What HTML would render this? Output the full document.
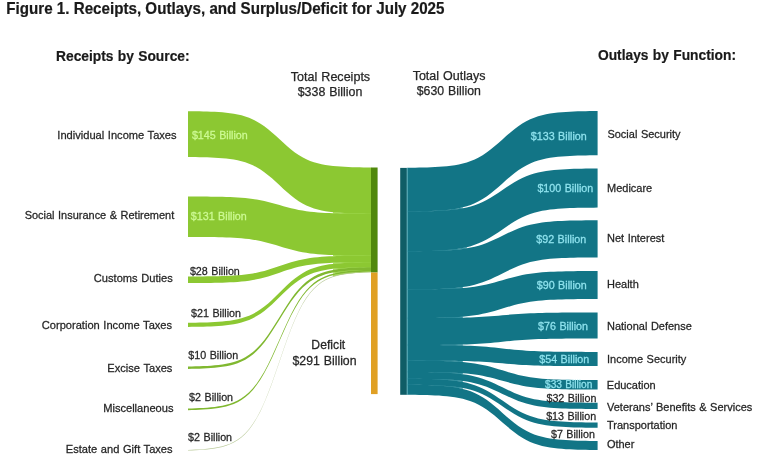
<!DOCTYPE html>
<html><head><meta charset="utf-8"><title>Figure 1</title>
<style>html,body{margin:0;padding:0;background:#fff;}body{width:768px;height:473px;overflow:hidden;font-family:"Liberation Sans",Arial,sans-serif;}svg{display:block}</style>
</head><body>
<svg width="768" height="473" viewBox="0 0 768 473" font-family="'Liberation Sans', Arial, sans-serif">
<path d="M371.20,213.70 L367.38,213.67 L363.57,213.64 L359.75,213.60 L355.93,213.54 L352.12,213.47 L348.30,213.38 L344.48,213.27 L340.67,213.12 L336.85,212.94 L333.03,212.70" fill="none" stroke="#a9e05c" stroke-width="1.4"/>
<path d="M371.20,255.60 L367.38,255.60 L363.57,255.60 L359.75,255.60 L355.93,255.60 L352.12,255.61 L348.30,255.61 L344.48,255.61 L340.67,255.62 L336.85,255.62 L333.03,255.63" fill="none" stroke="#a9e05c" stroke-width="1.4"/>
<path d="M371.20,262.25 L367.38,262.28 L363.57,262.32 L359.75,262.36 L355.93,262.42 L352.12,262.50 L348.30,262.60 L344.48,262.72 L340.67,262.88 L336.85,263.09 L333.03,263.35" fill="none" stroke="#a9e05c" stroke-width="1.4"/>
<path d="M371.20,267.25 L367.38,267.31 L363.57,267.38 L359.75,267.47 L355.93,267.59 L352.12,267.74 L348.30,267.93 L344.48,268.18 L340.67,268.49 L336.85,268.89 L333.03,269.39" fill="none" stroke="#a9e05c" stroke-width="1.4"/>
<path d="M371.20,269.90 L367.38,269.98 L363.57,270.09 L359.75,270.23 L355.93,270.40 L352.12,270.63 L348.30,270.92 L344.48,271.28 L340.67,271.75 L336.85,272.35 L333.03,273.10" fill="none" stroke="#a9e05c" stroke-width="1.4"/>
<path d="M371.20,271.50 L367.38,271.61 L363.57,271.75 L359.75,271.94 L355.93,272.17 L352.12,272.47 L348.30,272.86 L344.48,273.35 L340.67,273.97 L336.85,274.77 L333.03,275.78" fill="none" stroke="#a9e05c" stroke-width="1.4"/>
<path d="M188.00,111.20 L191.82,111.24 L195.63,111.29 L199.45,111.36 L203.27,111.44 L207.08,111.55 L210.90,111.68 L214.72,111.86 L218.53,112.08 L222.35,112.36 L226.17,112.72 L229.98,113.17 L233.80,113.74 L237.62,114.46 L241.43,115.35 L245.25,116.45 L249.07,117.80 L252.88,119.44 L256.70,121.38 L260.52,123.66 L264.33,126.28 L268.15,129.21 L271.97,132.42 L275.78,135.83 L279.60,139.35 L283.42,142.87 L287.23,146.28 L291.05,149.49 L294.87,152.42 L298.68,155.04 L302.50,157.32 L306.32,159.26 L310.13,160.90 L313.95,162.25 L317.77,163.35 L321.58,164.24 L325.40,164.96 L329.22,165.53 L333.03,165.98 L336.85,166.34 L340.67,166.62 L344.48,166.84 L348.30,167.02 L352.12,167.15 L355.93,167.26 L359.75,167.34 L363.57,167.41 L367.38,167.46 L371.20,167.50 L371.20,213.70 L367.38,213.66 L363.57,213.61 L359.75,213.54 L355.93,213.46 L352.12,213.35 L348.30,213.21 L344.48,213.04 L340.67,212.82 L336.85,212.53 L333.03,212.17 L329.22,211.71 L325.40,211.14 L321.58,210.42 L317.77,209.52 L313.95,208.41 L310.13,207.05 L306.32,205.40 L302.50,203.45 L298.68,201.15 L294.87,198.52 L291.05,195.56 L287.23,192.33 L283.42,188.89 L279.60,185.35 L275.78,181.81 L271.97,178.37 L268.15,175.14 L264.33,172.18 L260.52,169.55 L256.70,167.25 L252.88,165.30 L249.07,163.65 L245.25,162.29 L241.43,161.18 L237.62,160.28 L233.80,159.56 L229.98,158.99 L226.17,158.53 L222.35,158.17 L218.53,157.88 L214.72,157.66 L210.90,157.49 L207.08,157.35 L203.27,157.24 L199.45,157.16 L195.63,157.09 L191.82,157.04 L188.00,157.00Z" fill="#8cc832"/>
<path d="M188.00,196.50 L191.82,196.51 L195.63,196.53 L199.45,196.55 L203.27,196.57 L207.08,196.61 L210.90,196.65 L214.72,196.70 L218.53,196.77 L222.35,196.85 L226.17,196.96 L229.98,197.10 L233.80,197.28 L237.62,197.50 L241.43,197.77 L245.25,198.11 L249.07,198.52 L252.88,199.02 L256.70,199.61 L260.52,200.31 L264.33,201.11 L268.15,202.00 L271.97,202.98 L275.78,204.03 L279.60,205.10 L283.42,206.17 L287.23,207.22 L291.05,208.20 L294.87,209.09 L298.68,209.89 L302.50,210.59 L306.32,211.18 L310.13,211.68 L313.95,212.09 L317.77,212.43 L321.58,212.70 L325.40,212.92 L329.22,213.10 L333.03,213.24 L336.85,213.35 L340.67,213.43 L344.48,213.50 L348.30,213.55 L352.12,213.59 L355.93,213.63 L359.75,213.65 L363.57,213.67 L367.38,213.69 L371.20,213.70 L371.20,255.60 L367.38,255.59 L363.57,255.57 L359.75,255.55 L355.93,255.52 L352.12,255.49 L348.30,255.44 L344.48,255.38 L340.67,255.31 L336.85,255.21 L333.03,255.10 L329.22,254.94 L325.40,254.76 L321.58,254.52 L317.77,254.22 L313.95,253.85 L310.13,253.41 L306.32,252.86 L302.50,252.22 L298.68,251.46 L294.87,250.59 L291.05,249.62 L287.23,248.55 L283.42,247.42 L279.60,246.25 L275.78,245.08 L271.97,243.95 L268.15,242.88 L264.33,241.91 L260.52,241.04 L256.70,240.28 L252.88,239.64 L249.07,239.09 L245.25,238.65 L241.43,238.28 L237.62,237.98 L233.80,237.74 L229.98,237.56 L226.17,237.40 L222.35,237.29 L218.53,237.19 L214.72,237.12 L210.90,237.06 L207.08,237.01 L203.27,236.98 L199.45,236.95 L195.63,236.93 L191.82,236.91 L188.00,236.90Z" fill="#8cc832"/>
<path d="M188.00,276.50 L191.82,276.49 L195.63,276.47 L199.45,276.44 L203.27,276.41 L207.08,276.37 L210.90,276.32 L214.72,276.26 L218.53,276.17 L222.35,276.07 L226.17,275.94 L229.98,275.77 L233.80,275.56 L237.62,275.29 L241.43,274.96 L245.25,274.55 L249.07,274.05 L252.88,273.44 L256.70,272.72 L260.52,271.87 L264.33,270.90 L268.15,269.81 L271.97,268.62 L275.78,267.36 L279.60,266.05 L283.42,264.74 L287.23,263.48 L291.05,262.29 L294.87,261.20 L298.68,260.23 L302.50,259.38 L306.32,258.66 L310.13,258.05 L313.95,257.55 L317.77,257.14 L321.58,256.81 L325.40,256.54 L329.22,256.33 L333.03,256.16 L336.85,256.03 L340.67,255.93 L344.48,255.84 L348.30,255.78 L352.12,255.73 L355.93,255.69 L359.75,255.66 L363.57,255.63 L367.38,255.61 L371.20,255.60 L371.20,262.25 L367.38,262.26 L363.57,262.28 L359.75,262.31 L355.93,262.34 L352.12,262.38 L348.30,262.43 L344.48,262.49 L340.67,262.58 L336.85,262.68 L333.03,262.81 L329.22,262.98 L325.40,263.19 L321.58,263.46 L317.77,263.79 L313.95,264.20 L310.13,264.70 L306.32,265.30 L302.50,266.02 L298.68,266.86 L294.87,267.83 L291.05,268.92 L287.23,270.11 L283.42,271.37 L279.60,272.68 L275.78,273.98 L271.97,275.24 L268.15,276.43 L264.33,277.52 L260.52,278.49 L256.70,279.33 L252.88,280.05 L249.07,280.65 L245.25,281.15 L241.43,281.56 L237.62,281.89 L233.80,282.16 L229.98,282.37 L226.17,282.54 L222.35,282.67 L218.53,282.77 L214.72,282.86 L210.90,282.92 L207.08,282.97 L203.27,283.01 L199.45,283.04 L195.63,283.07 L191.82,283.09 L188.00,283.10Z" fill="#8cc832"/>
<path d="M188.00,322.75 L191.82,322.71 L195.63,322.65 L199.45,322.58 L203.27,322.49 L207.08,322.38 L210.90,322.23 L214.72,322.05 L218.53,321.81 L222.35,321.50 L226.17,321.12 L229.98,320.63 L233.80,320.02 L237.62,319.25 L241.43,318.29 L245.25,317.10 L249.07,315.65 L252.88,313.90 L256.70,311.81 L260.52,309.36 L264.33,306.55 L268.15,303.39 L271.97,299.95 L275.78,296.28 L279.60,292.50 L283.42,288.72 L287.23,285.05 L291.05,281.61 L294.87,278.45 L298.68,275.64 L302.50,273.19 L306.32,271.10 L310.13,269.35 L313.95,267.90 L317.77,266.71 L321.58,265.75 L325.40,264.98 L329.22,264.37 L333.03,263.88 L336.85,263.50 L340.67,263.19 L344.48,262.95 L348.30,262.77 L352.12,262.62 L355.93,262.51 L359.75,262.42 L363.57,262.35 L367.38,262.29 L371.20,262.25 L371.20,267.25 L367.38,267.29 L363.57,267.35 L359.75,267.41 L355.93,267.50 L352.12,267.62 L348.30,267.76 L344.48,267.94 L340.67,268.18 L336.85,268.48 L333.03,268.86 L329.22,269.34 L325.40,269.94 L321.58,270.70 L317.77,271.65 L313.95,272.82 L310.13,274.25 L306.32,275.98 L302.50,278.04 L298.68,280.45 L294.87,283.22 L291.05,286.33 L287.23,289.73 L283.42,293.35 L279.60,297.07 L275.78,300.80 L271.97,304.42 L268.15,307.82 L264.33,310.93 L260.52,313.70 L256.70,316.11 L252.88,318.17 L249.07,319.90 L245.25,321.33 L241.43,322.50 L237.62,323.45 L233.80,324.21 L229.98,324.81 L226.17,325.29 L222.35,325.67 L218.53,325.97 L214.72,326.21 L210.90,326.39 L207.08,326.53 L203.27,326.65 L199.45,326.74 L195.63,326.80 L191.82,326.86 L188.00,326.90Z" fill="#8cc832"/>
<path d="M188.00,366.50 L191.82,366.43 L195.63,366.34 L199.45,366.23 L203.27,366.08 L207.08,365.89 L210.90,365.65 L214.72,365.34 L218.53,364.95 L222.35,364.45 L226.17,363.82 L229.98,363.02 L233.80,362.02 L237.62,360.75 L241.43,359.18 L245.25,357.24 L249.07,354.86 L252.88,351.98 L256.70,348.55 L260.52,344.53 L264.33,339.92 L268.15,334.75 L271.97,329.09 L275.78,323.08 L279.60,316.88 L283.42,310.67 L287.23,304.66 L291.05,299.00 L294.87,293.83 L298.68,289.22 L302.50,285.20 L306.32,281.77 L310.13,278.89 L313.95,276.51 L317.77,274.57 L321.58,273.00 L325.40,271.73 L329.22,270.73 L333.03,269.93 L336.85,269.30 L340.67,268.80 L344.48,268.41 L348.30,268.10 L352.12,267.86 L355.93,267.67 L359.75,267.52 L363.57,267.41 L367.38,267.32 L371.20,267.25 L371.20,269.90 L367.38,269.97 L363.57,270.06 L359.75,270.17 L355.93,270.32 L352.12,270.51 L348.30,270.75 L344.48,271.05 L340.67,271.44 L336.85,271.94 L333.03,272.57 L329.22,273.37 L325.40,274.37 L321.58,275.63 L317.77,277.20 L313.95,279.14 L310.13,281.51 L306.32,284.38 L302.50,287.80 L298.68,291.81 L294.87,296.41 L291.05,301.57 L287.23,307.22 L283.42,313.21 L279.60,319.40 L275.78,325.59 L271.97,331.58 L268.15,337.23 L264.33,342.39 L260.52,346.99 L256.70,351.00 L252.88,354.42 L249.07,357.29 L245.25,359.66 L241.43,361.60 L237.62,363.17 L233.80,364.43 L229.98,365.43 L226.17,366.23 L222.35,366.86 L218.53,367.36 L214.72,367.75 L210.90,368.05 L207.08,368.29 L203.27,368.48 L199.45,368.63 L195.63,368.74 L191.82,368.83 L188.00,368.90Z" fill="#80b830"/>
<path d="M188.00,408.50 L191.82,408.40 L195.63,408.28 L199.45,408.12 L203.27,407.91 L207.08,407.65 L210.90,407.31 L214.72,406.89 L218.53,406.34 L222.35,405.64 L226.17,404.76 L229.98,403.65 L233.80,402.24 L237.62,400.48 L241.43,398.28 L245.25,395.56 L249.07,392.24 L252.88,388.22 L256.70,383.43 L260.52,377.82 L264.33,371.38 L268.15,364.16 L271.97,356.26 L275.78,347.86 L279.60,339.20 L283.42,330.54 L287.23,322.14 L291.05,314.24 L294.87,307.02 L298.68,300.58 L302.50,294.97 L306.32,290.18 L310.13,286.16 L313.95,282.84 L317.77,280.12 L321.58,277.92 L325.40,276.16 L329.22,274.75 L333.03,273.64 L336.85,272.76 L340.67,272.06 L344.48,271.51 L348.30,271.09 L352.12,270.75 L355.93,270.49 L359.75,270.28 L363.57,270.12 L367.38,270.00 L371.20,269.90 L371.20,271.50 L367.38,271.60 L363.57,271.72 L359.75,271.88 L355.93,272.09 L352.12,272.35 L348.30,272.69 L344.48,273.12 L340.67,273.66 L336.85,274.36 L333.03,275.24 L329.22,276.36 L325.40,277.77 L321.58,279.53 L317.77,281.73 L313.95,284.45 L310.13,287.77 L306.32,291.79 L302.50,296.58 L298.68,302.20 L294.87,308.64 L291.05,315.87 L287.23,323.78 L283.42,332.18 L279.60,340.85 L275.78,349.52 L271.97,357.92 L268.15,365.83 L264.33,373.06 L260.52,379.50 L256.70,385.12 L252.88,389.91 L249.07,393.93 L245.25,397.25 L241.43,399.97 L237.62,402.17 L233.80,403.93 L229.98,405.34 L226.17,406.46 L222.35,407.34 L218.53,408.04 L214.72,408.58 L210.90,409.01 L207.08,409.35 L203.27,409.61 L199.45,409.82 L195.63,409.98 L191.82,410.10 L188.00,410.20Z" fill="#80b830"/>
<path d="M188.00,449.90 L191.82,449.77 L195.63,449.61 L199.45,449.41 L203.27,449.14 L207.08,448.81 L210.90,448.37 L214.72,447.82 L218.53,447.12 L222.35,446.22 L226.17,445.09 L229.98,443.65 L233.80,441.84 L237.62,439.57 L241.43,436.74 L245.25,433.25 L249.07,428.97 L252.88,423.80 L256.70,417.64 L260.52,410.42 L264.33,402.13 L268.15,392.82 L271.97,382.66 L275.78,371.85 L279.60,360.70 L283.42,349.55 L287.23,338.74 L291.05,328.58 L294.87,319.27 L298.68,310.98 L302.50,303.76 L306.32,297.60 L310.13,292.43 L313.95,288.15 L317.77,284.66 L321.58,281.83 L325.40,279.56 L329.22,277.75 L333.03,276.31 L336.85,275.18 L340.67,274.28 L344.48,273.58 L348.30,273.03 L352.12,272.59 L355.93,272.26 L359.75,271.99 L363.57,271.79 L367.38,271.63 L371.20,271.50 L371.20,272.30 L367.38,272.43 L363.57,272.59 L359.75,272.79 L355.93,273.06 L352.12,273.39 L348.30,273.83 L344.48,274.38 L340.67,275.08 L336.85,275.97 L333.03,277.11 L329.22,278.55 L325.40,280.35 L321.58,282.62 L317.77,285.45 L313.95,288.94 L310.13,293.22 L306.32,298.38 L302.50,304.55 L298.68,311.76 L294.87,320.05 L291.05,329.34 L287.23,339.51 L283.42,350.31 L279.60,361.45 L275.78,372.59 L271.97,383.39 L268.15,393.56 L264.33,402.85 L260.52,411.14 L256.70,418.35 L252.88,424.52 L249.07,429.68 L245.25,433.96 L241.43,437.45 L237.62,440.28 L233.80,442.55 L229.98,444.35 L226.17,445.79 L222.35,446.93 L218.53,447.82 L214.72,448.52 L210.90,449.07 L207.08,449.51 L203.27,449.84 L199.45,450.11 L195.63,450.31 L191.82,450.47 L188.00,450.60Z" fill="#a3b878" fill-opacity="0.75"/>
<rect x="371" y="167.5" width="6.6" height="105" fill="#50880c"/>
<rect x="371" y="272.5" width="6.6" height="121.6" fill="#e0a024"/>
<path d="M407.30,211.50 L411.26,211.47 L415.23,211.42 L419.19,211.36 L423.16,211.29 L427.12,211.20 L431.09,211.08 L435.05,210.92 L439.02,210.73 L442.98,210.48 L446.95,210.16 L450.91,209.76 L454.88,209.26 L458.84,208.63 L462.80,207.84" fill="none" stroke="#3f9aa8" stroke-width="1.4"/>
<path d="M407.30,251.25 L411.26,251.22 L415.23,251.19 L419.19,251.15 L423.16,251.09 L427.12,251.02 L431.09,250.93 L435.05,250.82 L439.02,250.67 L442.98,250.48 L446.95,250.24 L450.91,249.94 L454.88,249.56 L458.84,249.09 L462.80,248.50 L466.77,247.77" fill="none" stroke="#3f9aa8" stroke-width="1.4"/>
<path d="M407.30,289.40 L411.26,289.38 L415.23,289.36 L419.19,289.33 L423.16,289.29 L427.12,289.25 L431.09,289.18 L435.05,289.11 L439.02,289.01 L442.98,288.88 L446.95,288.72 L450.91,288.52 L454.88,288.26 L458.84,287.94 L462.80,287.54" fill="none" stroke="#3f9aa8" stroke-width="1.4"/>
<path d="M407.30,318.10 L411.26,318.09 L415.23,318.08 L419.19,318.07 L423.16,318.05 L427.12,318.02 L431.09,317.99 L435.05,317.96 L439.02,317.91 L442.98,317.85 L446.95,317.77 L450.91,317.67 L454.88,317.54 L458.84,317.38 L462.80,317.19" fill="none" stroke="#3f9aa8" stroke-width="1.4"/>
<path d="M407.30,345.00 L411.26,345.00 L415.23,345.00 L419.19,345.00 L423.16,345.00 L427.12,345.00 L431.09,345.00 L435.05,345.00 L439.02,345.00 L442.98,345.00 L446.95,345.01 L450.91,345.01 L454.88,345.01 L458.84,345.01 L462.80,345.01" fill="none" stroke="#3f9aa8" stroke-width="1.4"/>
<path d="M407.30,360.60 L411.26,360.61 L415.23,360.62 L419.19,360.63 L423.16,360.65 L427.12,360.68 L431.09,360.71 L435.05,360.75 L439.02,360.79 L442.98,360.86 L446.95,360.94 L450.91,361.04 L454.88,361.16 L458.84,361.32 L462.80,361.52" fill="none" stroke="#3f9aa8" stroke-width="1.4"/>
<path d="M407.30,371.90 L411.26,371.92 L415.23,371.94 L419.19,371.97 L423.16,372.00 L427.12,372.05 L431.09,372.11 L435.05,372.18 L439.02,372.28 L442.98,372.40 L446.95,372.55 L450.91,372.75 L454.88,373.00 L458.84,373.31 L462.80,373.69" fill="none" stroke="#3f9aa8" stroke-width="1.4"/>
<path d="M407.30,378.75 L411.26,378.78 L415.23,378.81 L419.19,378.85 L423.16,378.91 L427.12,378.98 L431.09,379.07 L435.05,379.18 L439.02,379.33 L442.98,379.51 L446.95,379.75 L450.91,380.05 L454.88,380.42 L458.84,380.89 L462.80,381.48" fill="none" stroke="#3f9aa8" stroke-width="1.4"/>
<path d="M407.30,384.75 L411.26,384.78 L415.23,384.83 L419.19,384.89 L423.16,384.96 L427.12,385.05 L431.09,385.17 L435.05,385.33 L439.02,385.52 L442.98,385.77 L446.95,386.09 L450.91,386.49 L454.88,386.99 L458.84,387.62 L462.80,388.41" fill="none" stroke="#3f9aa8" stroke-width="1.4"/>
<path d="M407.30,167.75 L411.26,167.71 L415.23,167.66 L419.19,167.59 L423.16,167.51 L427.12,167.40 L431.09,167.26 L435.05,167.09 L439.02,166.87 L442.98,166.58 L446.95,166.22 L450.91,165.76 L454.88,165.19 L458.84,164.46 L462.80,163.56 L466.77,162.45 L470.73,161.09 L474.70,159.45 L478.66,157.49 L482.63,155.19 L486.59,152.55 L490.56,149.59 L494.52,146.36 L498.49,142.92 L502.45,139.38 L506.41,135.83 L510.38,132.39 L514.34,129.16 L518.31,126.20 L522.27,123.56 L526.24,121.26 L530.20,119.30 L534.17,117.66 L538.13,116.30 L542.10,115.19 L546.06,114.29 L550.03,113.56 L553.99,112.99 L557.95,112.53 L561.92,112.17 L565.88,111.88 L569.85,111.66 L573.81,111.49 L577.78,111.35 L581.74,111.24 L585.71,111.16 L589.67,111.09 L593.64,111.04 L597.60,111.00 L597.60,155.25 L593.64,155.29 L589.67,155.34 L585.71,155.41 L581.74,155.49 L577.78,155.60 L573.81,155.73 L569.85,155.91 L565.88,156.13 L561.92,156.41 L557.95,156.77 L553.99,157.22 L550.03,157.79 L546.06,158.51 L542.10,159.40 L538.13,160.50 L534.17,161.85 L530.20,163.48 L526.24,165.42 L522.27,167.70 L518.31,170.31 L514.34,173.25 L510.38,176.45 L506.41,179.86 L502.45,183.38 L498.49,186.89 L494.52,190.30 L490.56,193.50 L486.59,196.44 L482.63,199.05 L478.66,201.33 L474.70,203.27 L470.73,204.90 L466.77,206.25 L462.80,207.35 L458.84,208.24 L454.88,208.96 L450.91,209.53 L446.95,209.98 L442.98,210.34 L439.02,210.62 L435.05,210.84 L431.09,211.02 L427.12,211.15 L423.16,211.26 L419.19,211.34 L415.23,211.41 L411.26,211.46 L407.30,211.50Z" fill="#127586"/>
<path d="M407.30,211.50 L411.26,211.47 L415.23,211.43 L419.19,211.38 L423.16,211.32 L427.12,211.24 L431.09,211.13 L435.05,211.00 L439.02,210.83 L442.98,210.61 L446.95,210.34 L450.91,209.99 L454.88,209.56 L458.84,209.01 L462.80,208.33 L466.77,207.49 L470.73,206.46 L474.70,205.21 L478.66,203.72 L482.63,201.98 L486.59,199.98 L490.56,197.74 L494.52,195.29 L498.49,192.69 L502.45,190.00 L506.41,187.31 L510.38,184.71 L514.34,182.26 L518.31,180.02 L522.27,178.02 L526.24,176.28 L530.20,174.79 L534.17,173.54 L538.13,172.51 L542.10,171.67 L546.06,170.99 L550.03,170.44 L553.99,170.01 L557.95,169.66 L561.92,169.39 L565.88,169.17 L569.85,169.00 L573.81,168.87 L577.78,168.76 L581.74,168.68 L585.71,168.62 L589.67,168.57 L593.64,168.53 L597.60,168.50 L597.60,207.60 L593.64,207.63 L589.67,207.67 L585.71,207.72 L581.74,207.79 L577.78,207.87 L573.81,207.97 L569.85,208.11 L565.88,208.28 L561.92,208.50 L557.95,208.78 L553.99,209.13 L550.03,209.57 L546.06,210.13 L542.10,210.82 L538.13,211.67 L534.17,212.72 L530.20,213.99 L526.24,215.49 L522.27,217.26 L518.31,219.29 L514.34,221.56 L510.38,224.05 L506.41,226.70 L502.45,229.43 L498.49,232.15 L494.52,234.80 L490.56,237.29 L486.59,239.56 L482.63,241.59 L478.66,243.36 L474.70,244.86 L470.73,246.13 L466.77,247.18 L462.80,248.03 L458.84,248.72 L454.88,249.28 L450.91,249.72 L446.95,250.07 L442.98,250.35 L439.02,250.57 L435.05,250.74 L431.09,250.88 L427.12,250.98 L423.16,251.06 L419.19,251.13 L415.23,251.18 L411.26,251.22 L407.30,251.25Z" fill="#127586"/>
<path d="M407.30,251.25 L411.26,251.23 L415.23,251.20 L419.19,251.16 L423.16,251.12 L427.12,251.06 L431.09,250.98 L435.05,250.89 L439.02,250.77 L442.98,250.61 L446.95,250.41 L450.91,250.16 L454.88,249.85 L458.84,249.46 L462.80,248.96 L466.77,248.36 L470.73,247.61 L474.70,246.71 L478.66,245.64 L482.63,244.39 L486.59,242.95 L490.56,241.33 L494.52,239.57 L498.49,237.69 L502.45,235.75 L506.41,233.81 L510.38,231.93 L514.34,230.17 L518.31,228.55 L522.27,227.11 L526.24,225.86 L530.20,224.79 L534.17,223.89 L538.13,223.14 L542.10,222.54 L546.06,222.04 L550.03,221.65 L553.99,221.34 L557.95,221.09 L561.92,220.89 L565.88,220.73 L569.85,220.61 L573.81,220.52 L577.78,220.44 L581.74,220.38 L585.71,220.34 L589.67,220.30 L593.64,220.27 L597.60,220.25 L597.60,257.40 L593.64,257.42 L589.67,257.45 L585.71,257.49 L581.74,257.54 L577.78,257.60 L573.81,257.67 L569.85,257.77 L565.88,257.90 L561.92,258.06 L557.95,258.26 L553.99,258.52 L550.03,258.85 L546.06,259.25 L542.10,259.76 L538.13,260.39 L534.17,261.15 L530.20,262.08 L526.24,263.19 L522.27,264.48 L518.31,265.97 L514.34,267.64 L510.38,269.46 L506.41,271.40 L502.45,273.40 L498.49,275.40 L494.52,277.34 L490.56,279.16 L486.59,280.83 L482.63,282.32 L478.66,283.61 L474.70,284.72 L470.73,285.65 L466.77,286.41 L462.80,287.04 L458.84,287.55 L454.88,287.95 L450.91,288.28 L446.95,288.54 L442.98,288.74 L439.02,288.90 L435.05,289.03 L431.09,289.13 L427.12,289.20 L423.16,289.26 L419.19,289.31 L415.23,289.35 L411.26,289.38 L407.30,289.40Z" fill="#127586"/>
<path d="M407.30,289.40 L411.26,289.39 L415.23,289.37 L419.19,289.35 L423.16,289.32 L427.12,289.29 L431.09,289.24 L435.05,289.19 L439.02,289.11 L442.98,289.02 L446.95,288.90 L450.91,288.76 L454.88,288.57 L458.84,288.33 L462.80,288.04 L466.77,287.68 L470.73,287.24 L474.70,286.71 L478.66,286.07 L482.63,285.33 L486.59,284.47 L490.56,283.51 L494.52,282.46 L498.49,281.35 L502.45,280.20 L506.41,279.05 L510.38,277.94 L514.34,276.89 L518.31,275.93 L522.27,275.07 L526.24,274.33 L530.20,273.69 L534.17,273.16 L538.13,272.72 L542.10,272.36 L546.06,272.07 L550.03,271.83 L553.99,271.64 L557.95,271.50 L561.92,271.38 L565.88,271.29 L569.85,271.21 L573.81,271.16 L577.78,271.11 L581.74,271.08 L585.71,271.05 L589.67,271.03 L593.64,271.01 L597.60,271.00 L597.60,299.00 L593.64,299.01 L589.67,299.03 L585.71,299.05 L581.74,299.08 L577.78,299.12 L573.81,299.16 L569.85,299.22 L565.88,299.30 L561.92,299.39 L557.95,299.52 L553.99,299.67 L550.03,299.86 L546.06,300.11 L542.10,300.41 L538.13,300.78 L534.17,301.24 L530.20,301.79 L526.24,302.45 L522.27,303.23 L518.31,304.11 L514.34,305.11 L510.38,306.20 L506.41,307.36 L502.45,308.55 L498.49,309.74 L494.52,310.90 L490.56,311.99 L486.59,312.99 L482.63,313.87 L478.66,314.65 L474.70,315.31 L470.73,315.86 L466.77,316.32 L462.80,316.69 L458.84,316.99 L454.88,317.24 L450.91,317.43 L446.95,317.58 L442.98,317.71 L439.02,317.80 L435.05,317.88 L431.09,317.94 L427.12,317.98 L423.16,318.02 L419.19,318.05 L415.23,318.07 L411.26,318.09 L407.30,318.10Z" fill="#127586"/>
<path d="M407.30,318.10 L411.26,318.10 L415.23,318.09 L419.19,318.08 L423.16,318.08 L427.12,318.07 L431.09,318.05 L435.05,318.03 L439.02,318.01 L442.98,317.98 L446.95,317.95 L450.91,317.90 L454.88,317.85 L458.84,317.78 L462.80,317.69 L466.77,317.58 L470.73,317.44 L474.70,317.28 L478.66,317.09 L482.63,316.86 L486.59,316.60 L490.56,316.31 L494.52,315.99 L498.49,315.65 L502.45,315.30 L506.41,314.95 L510.38,314.61 L514.34,314.29 L518.31,314.00 L522.27,313.74 L526.24,313.51 L530.20,313.32 L534.17,313.16 L538.13,313.02 L542.10,312.91 L546.06,312.82 L550.03,312.75 L553.99,312.70 L557.95,312.65 L561.92,312.62 L565.88,312.59 L569.85,312.57 L573.81,312.55 L577.78,312.53 L581.74,312.52 L585.71,312.52 L589.67,312.51 L593.64,312.50 L597.60,312.50 L597.60,338.50 L593.64,338.50 L589.67,338.51 L585.71,338.52 L581.74,338.53 L577.78,338.54 L573.81,338.56 L569.85,338.58 L565.88,338.60 L561.92,338.63 L557.95,338.68 L553.99,338.73 L550.03,338.79 L546.06,338.88 L542.10,338.98 L538.13,339.11 L534.17,339.26 L530.20,339.45 L526.24,339.68 L522.27,339.94 L518.31,340.24 L514.34,340.58 L510.38,340.95 L506.41,341.34 L502.45,341.75 L498.49,342.16 L494.52,342.55 L490.56,342.92 L486.59,343.26 L482.63,343.56 L478.66,343.82 L474.70,344.05 L470.73,344.24 L466.77,344.39 L462.80,344.52 L458.84,344.62 L454.88,344.71 L450.91,344.77 L446.95,344.82 L442.98,344.87 L439.02,344.90 L435.05,344.92 L431.09,344.94 L427.12,344.96 L423.16,344.97 L419.19,344.98 L415.23,344.99 L411.26,345.00 L407.30,345.00Z" fill="#127586"/>
<path d="M407.30,345.00 L411.26,345.00 L415.23,345.01 L419.19,345.02 L423.16,345.03 L427.12,345.04 L431.09,345.06 L435.05,345.08 L439.02,345.11 L442.98,345.14 L446.95,345.19 L450.91,345.24 L454.88,345.31 L458.84,345.40 L462.80,345.51 L466.77,345.64 L470.73,345.81 L474.70,346.01 L478.66,346.25 L482.63,346.53 L486.59,346.85 L490.56,347.21 L494.52,347.60 L498.49,348.02 L502.45,348.45 L506.41,348.88 L510.38,349.30 L514.34,349.69 L518.31,350.05 L522.27,350.37 L526.24,350.65 L530.20,350.89 L534.17,351.09 L538.13,351.26 L542.10,351.39 L546.06,351.50 L550.03,351.59 L553.99,351.66 L557.95,351.71 L561.92,351.76 L565.88,351.79 L569.85,351.82 L573.81,351.84 L577.78,351.86 L581.74,351.87 L585.71,351.88 L589.67,351.89 L593.64,351.90 L597.60,351.90 L597.60,366.10 L593.64,366.10 L589.67,366.09 L585.71,366.08 L581.74,366.08 L577.78,366.07 L573.81,366.05 L569.85,366.04 L565.88,366.01 L561.92,365.99 L557.95,365.95 L553.99,365.91 L550.03,365.85 L546.06,365.78 L542.10,365.69 L538.13,365.59 L534.17,365.45 L530.20,365.30 L526.24,365.11 L522.27,364.88 L518.31,364.63 L514.34,364.34 L510.38,364.03 L506.41,363.69 L502.45,363.35 L498.49,363.01 L494.52,362.67 L490.56,362.36 L486.59,362.07 L482.63,361.82 L478.66,361.59 L474.70,361.40 L470.73,361.25 L466.77,361.11 L462.80,361.01 L458.84,360.92 L454.88,360.85 L450.91,360.79 L446.95,360.75 L442.98,360.71 L439.02,360.69 L435.05,360.66 L431.09,360.65 L427.12,360.63 L423.16,360.62 L419.19,360.62 L415.23,360.61 L411.26,360.60 L407.30,360.60Z" fill="#127586"/>
<path d="M407.30,360.60 L411.26,360.61 L415.23,360.63 L419.19,360.65 L423.16,360.68 L427.12,360.72 L431.09,360.77 L435.05,360.83 L439.02,360.90 L442.98,361.00 L446.95,361.13 L450.91,361.28 L454.88,361.48 L458.84,361.73 L462.80,362.04 L466.77,362.42 L470.73,362.89 L474.70,363.45 L478.66,364.13 L482.63,364.92 L486.59,365.82 L490.56,366.84 L494.52,367.95 L498.49,369.13 L502.45,370.35 L506.41,371.57 L510.38,372.75 L514.34,373.86 L518.31,374.88 L522.27,375.78 L526.24,376.57 L530.20,377.25 L534.17,377.81 L538.13,378.28 L542.10,378.66 L546.06,378.97 L550.03,379.22 L553.99,379.42 L557.95,379.57 L561.92,379.70 L565.88,379.80 L569.85,379.87 L573.81,379.93 L577.78,379.98 L581.74,380.02 L585.71,380.05 L589.67,380.07 L593.64,380.09 L597.60,380.10 L597.60,389.60 L593.64,389.59 L589.67,389.57 L585.71,389.55 L581.74,389.52 L577.78,389.49 L573.81,389.45 L569.85,389.39 L565.88,389.32 L561.92,389.24 L557.95,389.12 L553.99,388.98 L550.03,388.80 L546.06,388.58 L542.10,388.29 L538.13,387.95 L534.17,387.52 L530.20,387.01 L526.24,386.40 L522.27,385.68 L518.31,384.86 L514.34,383.94 L510.38,382.93 L506.41,381.86 L502.45,380.75 L498.49,379.64 L494.52,378.57 L490.56,377.56 L486.59,376.64 L482.63,375.82 L478.66,375.10 L474.70,374.49 L470.73,373.98 L466.77,373.55 L462.80,373.21 L458.84,372.92 L454.88,372.70 L450.91,372.52 L446.95,372.38 L442.98,372.26 L439.02,372.18 L435.05,372.11 L431.09,372.05 L427.12,372.01 L423.16,371.98 L419.19,371.95 L415.23,371.93 L411.26,371.91 L407.30,371.90Z" fill="#127586"/>
<path d="M407.30,371.90 L411.26,371.92 L415.23,371.95 L419.19,371.99 L423.16,372.03 L427.12,372.09 L431.09,372.16 L435.05,372.26 L439.02,372.38 L442.98,372.54 L446.95,372.73 L450.91,372.98 L454.88,373.29 L458.84,373.69 L462.80,374.18 L466.77,374.78 L470.73,375.52 L474.70,376.41 L478.66,377.48 L482.63,378.73 L486.59,380.16 L490.56,381.77 L494.52,383.53 L498.49,385.40 L502.45,387.32 L506.41,389.25 L510.38,391.12 L514.34,392.88 L518.31,394.49 L522.27,395.92 L526.24,397.17 L530.20,398.24 L534.17,399.13 L538.13,399.87 L542.10,400.47 L546.06,400.96 L550.03,401.36 L553.99,401.67 L557.95,401.92 L561.92,402.11 L565.88,402.27 L569.85,402.39 L573.81,402.49 L577.78,402.56 L581.74,402.62 L585.71,402.66 L589.67,402.70 L593.64,402.73 L597.60,402.75 L597.60,409.00 L593.64,408.98 L589.67,408.95 L585.71,408.92 L581.74,408.87 L577.78,408.81 L573.81,408.74 L569.85,408.65 L565.88,408.53 L561.92,408.38 L557.95,408.18 L553.99,407.94 L550.03,407.63 L546.06,407.25 L542.10,406.77 L538.13,406.18 L534.17,405.45 L530.20,404.57 L526.24,403.53 L522.27,402.31 L518.31,400.90 L514.34,399.32 L510.38,397.60 L506.41,395.77 L502.45,393.88 L498.49,391.98 L494.52,390.15 L490.56,388.43 L486.59,386.85 L482.63,385.44 L478.66,384.22 L474.70,383.18 L470.73,382.30 L466.77,381.57 L462.80,380.98 L458.84,380.50 L454.88,380.12 L450.91,379.81 L446.95,379.57 L442.98,379.37 L439.02,379.22 L435.05,379.10 L431.09,379.01 L427.12,378.94 L423.16,378.88 L419.19,378.83 L415.23,378.80 L411.26,378.77 L407.30,378.75Z" fill="#127586"/>
<path d="M407.30,378.75 L411.26,378.78 L415.23,378.82 L419.19,378.87 L423.16,378.94 L427.12,379.02 L431.09,379.12 L435.05,379.26 L439.02,379.43 L442.98,379.65 L446.95,379.93 L450.91,380.28 L454.88,380.73 L458.84,381.28 L462.80,381.98 L466.77,382.83 L470.73,383.88 L474.70,385.15 L478.66,386.66 L482.63,388.43 L486.59,390.47 L490.56,392.75 L494.52,395.24 L498.49,397.89 L502.45,400.62 L506.41,403.36 L510.38,406.01 L514.34,408.50 L518.31,410.78 L522.27,412.82 L526.24,414.59 L530.20,416.10 L534.17,417.37 L538.13,418.42 L542.10,419.27 L546.06,419.97 L550.03,420.52 L553.99,420.97 L557.95,421.32 L561.92,421.60 L565.88,421.82 L569.85,421.99 L573.81,422.13 L577.78,422.23 L581.74,422.31 L585.71,422.38 L589.67,422.43 L593.64,422.47 L597.60,422.50 L597.60,427.75 L593.64,427.72 L589.67,427.68 L585.71,427.63 L581.74,427.57 L577.78,427.49 L573.81,427.38 L569.85,427.25 L565.88,427.08 L561.92,426.86 L557.95,426.59 L553.99,426.24 L550.03,425.81 L546.06,425.26 L542.10,424.58 L538.13,423.74 L534.17,422.71 L530.20,421.46 L526.24,419.97 L522.27,418.23 L518.31,416.23 L514.34,413.99 L510.38,411.54 L506.41,408.94 L502.45,406.25 L498.49,403.56 L494.52,400.96 L490.56,398.51 L486.59,396.27 L482.63,394.27 L478.66,392.53 L474.70,391.04 L470.73,389.79 L466.77,388.76 L462.80,387.92 L458.84,387.24 L454.88,386.69 L450.91,386.26 L446.95,385.91 L442.98,385.64 L439.02,385.42 L435.05,385.25 L431.09,385.12 L427.12,385.01 L423.16,384.93 L419.19,384.87 L415.23,384.82 L411.26,384.78 L407.30,384.75Z" fill="#127586"/>
<path d="M407.30,384.75 L411.26,384.79 L415.23,384.84 L419.19,384.91 L423.16,384.99 L427.12,385.10 L431.09,385.23 L435.05,385.41 L439.02,385.63 L442.98,385.91 L446.95,386.27 L450.91,386.72 L454.88,387.29 L458.84,388.01 L462.80,388.90 L466.77,390.00 L470.73,391.35 L474.70,392.98 L478.66,394.92 L482.63,397.20 L486.59,399.81 L490.56,402.75 L494.52,405.95 L498.49,409.36 L502.45,412.88 L506.41,416.39 L510.38,419.80 L514.34,423.00 L518.31,425.94 L522.27,428.55 L526.24,430.83 L530.20,432.77 L534.17,434.40 L538.13,435.75 L542.10,436.85 L546.06,437.74 L550.03,438.46 L553.99,439.03 L557.95,439.48 L561.92,439.84 L565.88,440.12 L569.85,440.34 L573.81,440.52 L577.78,440.65 L581.74,440.76 L585.71,440.84 L589.67,440.91 L593.64,440.96 L597.60,441.00 L597.60,450.00 L593.64,449.96 L589.67,449.91 L585.71,449.85 L581.74,449.77 L577.78,449.66 L573.81,449.53 L569.85,449.36 L565.88,449.14 L561.92,448.86 L557.95,448.51 L553.99,448.06 L550.03,447.50 L546.06,446.80 L542.10,445.93 L538.13,444.84 L534.17,443.52 L530.20,441.92 L526.24,440.01 L522.27,437.77 L518.31,435.20 L514.34,432.32 L510.38,429.17 L506.41,425.83 L502.45,422.38 L498.49,418.92 L494.52,415.58 L490.56,412.43 L486.59,409.55 L482.63,406.98 L478.66,404.74 L474.70,402.83 L470.73,401.23 L466.77,399.91 L462.80,398.82 L458.84,397.95 L454.88,397.25 L450.91,396.69 L446.95,396.24 L442.98,395.89 L439.02,395.61 L435.05,395.39 L431.09,395.22 L427.12,395.09 L423.16,394.98 L419.19,394.90 L415.23,394.84 L411.26,394.79 L407.30,394.75Z" fill="#127586"/>
<rect x="400.2" y="167.9" width="6.7" height="226.9" fill="#0f5d66"/>
<rect x="406.8" y="167.9" width="0.9" height="226.9" fill="#4aa5b3"/>
<text transform="translate(6.3,13.8) scale(1,1.06)" font-size="15.17" text-anchor="start" font-weight="bold" fill="#1a1a1a" stroke="#1a1a1a" stroke-width="0.2">Figure 1. Receipts, Outlays, and Surplus/Deficit for July 2025</text>
<text transform="translate(56.0,60.5) scale(1,1.07)" font-size="13.8" word-spacing="0.5" text-anchor="start" font-weight="bold" fill="#1a1a1a" stroke="#1a1a1a" stroke-width="0.2">Receipts by Source:</text>
<text transform="translate(597.9,60.1) scale(1,1.07)" font-size="13.8" word-spacing="0.5" text-anchor="start" font-weight="bold" fill="#1a1a1a" stroke="#1a1a1a" stroke-width="0.2">Outlays by Function:</text>
<text transform="translate(330.5,80.9) scale(1,1.0)" font-size="12.55" word-spacing="0.5" text-anchor="middle" fill="#262626" stroke="#262626" stroke-width="0.25">Total Receipts</text>
<text transform="translate(330.0,95.6) scale(1,1.0)" font-size="12.4" word-spacing="0.5" text-anchor="middle" fill="#262626" stroke="#262626" stroke-width="0.25">$338 Billion</text>
<text transform="translate(449,80.1) scale(1,1.0)" font-size="12.5" word-spacing="0.5" text-anchor="middle" fill="#262626" stroke="#262626" stroke-width="0.25">Total Outlays</text>
<text transform="translate(448.8,94.8) scale(1,1.0)" font-size="12.3" word-spacing="0.5" text-anchor="middle" fill="#262626" stroke="#262626" stroke-width="0.25">$630 Billion</text>
<text transform="translate(328.3,349.4) scale(1,1.05)" font-size="12.2" word-spacing="0.5" text-anchor="middle" fill="#262626" stroke="#262626" stroke-width="0.25">Deficit</text>
<text transform="translate(324.5,364.6) scale(1,1.05)" font-size="12.3" word-spacing="0.5" text-anchor="middle" fill="#262626" stroke="#262626" stroke-width="0.25">$291 Billion</text>
<text transform="translate(176.6,138.6) scale(1,1.03)" font-size="11.12" word-spacing="0.5" text-anchor="end" fill="#262626" stroke="#262626" stroke-width="0.25">Individual Income Taxes</text>
<text transform="translate(174.2,218.7) scale(1,1.03)" font-size="10.98" word-spacing="0.5" text-anchor="end" fill="#262626" stroke="#262626" stroke-width="0.25">Social Insurance &amp; Retirement</text>
<text transform="translate(172.7,281.7) scale(1,1.03)" font-size="11.12" word-spacing="0.5" text-anchor="end" fill="#262626" stroke="#262626" stroke-width="0.25">Customs Duties</text>
<text transform="translate(172.1,329.2) scale(1,1.03)" font-size="11.12" word-spacing="0.5" text-anchor="end" fill="#262626" stroke="#262626" stroke-width="0.25">Corporation Income Taxes</text>
<text transform="translate(172.4,372.3) scale(1,1.03)" font-size="11.12" word-spacing="0.5" text-anchor="end" fill="#262626" stroke="#262626" stroke-width="0.25">Excise Taxes</text>
<text transform="translate(173.5,411.7) scale(1,1.03)" font-size="11.12" word-spacing="0.5" text-anchor="end" fill="#262626" stroke="#262626" stroke-width="0.25">Miscellaneous</text>
<text transform="translate(172.6,453.09999999999997) scale(1,1.03)" font-size="11.12" word-spacing="0.5" text-anchor="end" fill="#262626" stroke="#262626" stroke-width="0.25">Estate and Gift Taxes</text>
<text transform="translate(607.4,137.5) scale(1,1.03)" font-size="11.0" word-spacing="0.5" text-anchor="start" fill="#262626" stroke="#262626" stroke-width="0.25">Social Security</text>
<text transform="translate(607.0,191.9) scale(1,1.03)" font-size="11.0" word-spacing="0.5" text-anchor="start" fill="#262626" stroke="#262626" stroke-width="0.25">Medicare</text>
<text transform="translate(607.0,242.3) scale(1,1.03)" font-size="11.0" word-spacing="0.5" text-anchor="start" fill="#262626" stroke="#262626" stroke-width="0.25">Net Interest</text>
<text transform="translate(607.0,288.2) scale(1,1.03)" font-size="11.0" word-spacing="0.5" text-anchor="start" fill="#262626" stroke="#262626" stroke-width="0.25">Health</text>
<text transform="translate(607.0,330.1) scale(1,1.03)" font-size="11.0" word-spacing="0.5" text-anchor="start" fill="#262626" stroke="#262626" stroke-width="0.25">National Defense</text>
<text transform="translate(607.0,362.5) scale(1,1.03)" font-size="11.0" word-spacing="0.5" text-anchor="start" fill="#262626" stroke="#262626" stroke-width="0.25">Income Security</text>
<text transform="translate(606.8,388.5) scale(1,1.03)" font-size="11.0" word-spacing="0.5" text-anchor="start" fill="#262626" stroke="#262626" stroke-width="0.25">Education</text>
<text transform="translate(607.0,411.3) scale(1,1.03)" font-size="11.0" word-spacing="0.5" text-anchor="start" fill="#262626" stroke="#262626" stroke-width="0.25">Veterans’ Benefits &amp; Services</text>
<text transform="translate(607.0,429.1) scale(1,1.03)" font-size="11.0" word-spacing="0.5" text-anchor="start" fill="#262626" stroke="#262626" stroke-width="0.25">Transportation</text>
<text transform="translate(606.9,447.7) scale(1,1.03)" font-size="11.0" word-spacing="0.5" text-anchor="start" fill="#262626" stroke="#262626" stroke-width="0.25">Other</text>
<text transform="translate(191.9,139.0) scale(1,1.03)" font-size="10.72" word-spacing="0.5" text-anchor="start" fill="#cdfa94" stroke="#cdfa94" stroke-width="0.25">$145 Billion</text>
<text transform="translate(190.8,219.6) scale(1,1.03)" font-size="10.72" word-spacing="0.5" text-anchor="start" fill="#cdfa94" stroke="#cdfa94" stroke-width="0.25">$131 Billion</text>
<text transform="translate(189.9,274.6) scale(1,1.03)" font-size="10.72" word-spacing="0.5" text-anchor="start" fill="#262626" stroke="#262626" stroke-width="0.25">$28 Billion</text>
<text transform="translate(191.1,317.45) scale(1,1.03)" font-size="10.72" word-spacing="0.5" text-anchor="start" fill="#262626" stroke="#262626" stroke-width="0.25">$21 Billion</text>
<text transform="translate(188.3,359.2) scale(1,1.03)" font-size="10.72" word-spacing="0.5" text-anchor="start" fill="#262626" stroke="#262626" stroke-width="0.25">$10 Billion</text>
<text transform="translate(189.1,401.45) scale(1,1.03)" font-size="10.72" word-spacing="0.5" text-anchor="start" fill="#262626" stroke="#262626" stroke-width="0.25">$2 Billion</text>
<text transform="translate(188.1,440.7) scale(1,1.03)" font-size="10.72" word-spacing="0.5" text-anchor="start" fill="#262626" stroke="#262626" stroke-width="0.25">$2 Billion</text>
<text transform="translate(586.7,139.7) scale(1,1.03)" font-size="10.72" word-spacing="0.5" text-anchor="end" fill="#8fe3ee" stroke="#8fe3ee" stroke-width="0.25">$133 Billion</text>
<text transform="translate(593.3,191.75) scale(1,1.03)" font-size="10.72" word-spacing="0.5" text-anchor="end" fill="#8fe3ee" stroke="#8fe3ee" stroke-width="0.25">$100 Billion</text>
<text transform="translate(586.2,243.0) scale(1,1.03)" font-size="10.72" word-spacing="0.5" text-anchor="end" fill="#8fe3ee" stroke="#8fe3ee" stroke-width="0.25">$92 Billion</text>
<text transform="translate(586.7,288.6) scale(1,1.03)" font-size="10.72" word-spacing="0.5" text-anchor="end" fill="#8fe3ee" stroke="#8fe3ee" stroke-width="0.25">$90 Billion</text>
<text transform="translate(588.0,329.5) scale(1,1.03)" font-size="10.72" word-spacing="0.5" text-anchor="end" fill="#8fe3ee" stroke="#8fe3ee" stroke-width="0.25">$76 Billion</text>
<text transform="translate(589.2,362.6) scale(1,1.03)" font-size="10.72" word-spacing="0.5" text-anchor="end" fill="#8fe3ee" stroke="#8fe3ee" stroke-width="0.25">$54 Billion</text>
<text transform="translate(592.4,388.0) scale(1,1.03)" font-size="10.15" word-spacing="0.5" text-anchor="end" fill="#8fe3ee" stroke="#8fe3ee" stroke-width="0.25">$33 Billion</text>
<text transform="translate(596.4,401.5) scale(1,1.03)" font-size="10.72" word-spacing="0.5" text-anchor="end" fill="#262626" stroke="#262626" stroke-width="0.25">$32 Billion</text>
<text transform="translate(596.1,420.2) scale(1,1.03)" font-size="10.72" word-spacing="0.5" text-anchor="end" fill="#262626" stroke="#262626" stroke-width="0.25">$13 Billion</text>
<text transform="translate(594.9,437.95) scale(1,1.03)" font-size="10.72" word-spacing="0.5" text-anchor="end" fill="#262626" stroke="#262626" stroke-width="0.25">$7 Billion</text>
</svg>
</body></html>
